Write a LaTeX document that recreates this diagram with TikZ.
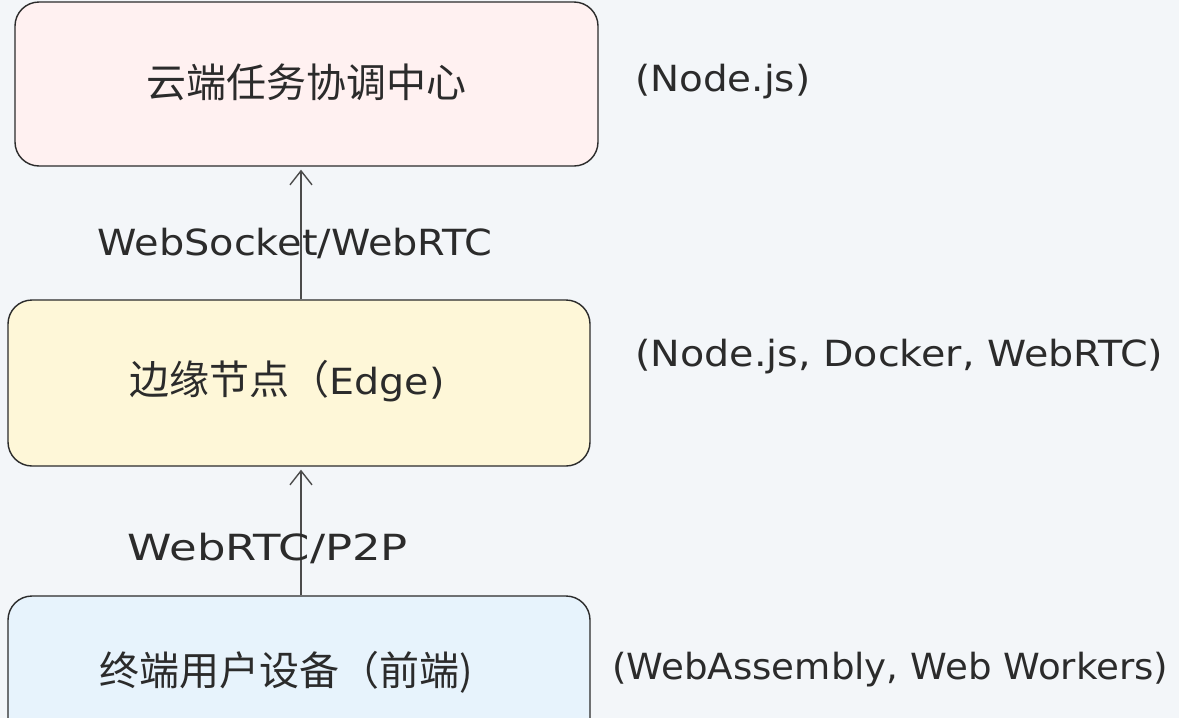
\documentclass[tikz,border=0pt]{standalone}
\usepackage{fontspec}
\setmainfont{DejaVu Sans}
\newfontfamily\cjk{Noto Sans CJK SC}
\usetikzlibrary{arrows.meta}
\definecolor{bg}{HTML}{F3F6F9}
\definecolor{pinkfill}{HTML}{FFF1F1}
\definecolor{yelfill}{HTML}{FEF7D8}
\definecolor{bluefill}{HTML}{E7F3FC}
\definecolor{ink}{HTML}{2B2B2B}
\newcommand{\hwide}[1]{\scalebox{1.1}[1]{#1}}
\newcommand{\fitw}[2]{\resizebox{#1}{\height}{#2}}
\begin{document}
\begin{tikzpicture}[x=1pt,y=-1pt,
  box/.style={draw=ink, line width=1.4pt, rounded corners=24pt, inner sep=0pt},
  conn/.style={draw=ink!85, line width=1.4pt, shorten >=3pt,
    -{Straight Barb[length=14pt,width=22pt,line width=1.4pt]}},
  lbl/.style={font=\fontsize{36}{40}\selectfont, text=ink, inner sep=0pt},
  cn/.style={font=\cjk\fontsize{40}{44}\selectfont, text=ink, inner sep=0pt}]
\clip (0,0) rectangle (1179,718);
\fill[bg] (0,0) rectangle (1179,718);
% boxes
\node[box, fill=pinkfill, minimum width=583pt, minimum height=164pt] (top) at (306.5,84) {};
\node[box, fill=yelfill, minimum width=582pt, minimum height=166pt] (mid) at (299,383) {};
\node[box, fill=bluefill, minimum width=582pt, minimum height=166pt] (bot) at (299,679) {};
% box texts
\node[cn] (toptxt) at (306,82) {云端任务协调中心};
\node[cn] (midtxt) at (287,381) {边缘节点（\fontspec{DejaVu Sans}\fontsize{36}{40}\selectfont\hwide{Edge)}};
\node[cn] (bottxt) at (286,672) {终端用户设备（前端)};
% side notes
\node[lbl, anchor=west] (topnote) at (635,82) {\fitw{175pt}{(Node.js)}};
\node[lbl, anchor=west] (midnote) at (635,357) {\fitw{528pt}{(Node.js, Docker, WebRTC)}};
\node[lbl, anchor=west] (botnote) at (612,670) {\fitw{556pt}{(WebAssembly, Web Workers)}};
% connectors
\draw[conn] ([xshift=2pt]mid.north) -- ([xshift=2pt]mid.north |- top.south);
\draw[conn] ([xshift=2pt]bot.north) -- ([xshift=2pt]bot.north |- mid.south);
% connector labels
\node[lbl] (l1) at (295,243) {\fitw{395pt}{WebSocket/WebRTC}};
\node[lbl] (l2) at (268,548) {\fitw{280pt}{WebRTC/P2P}};
\end{tikzpicture}
\end{document}
